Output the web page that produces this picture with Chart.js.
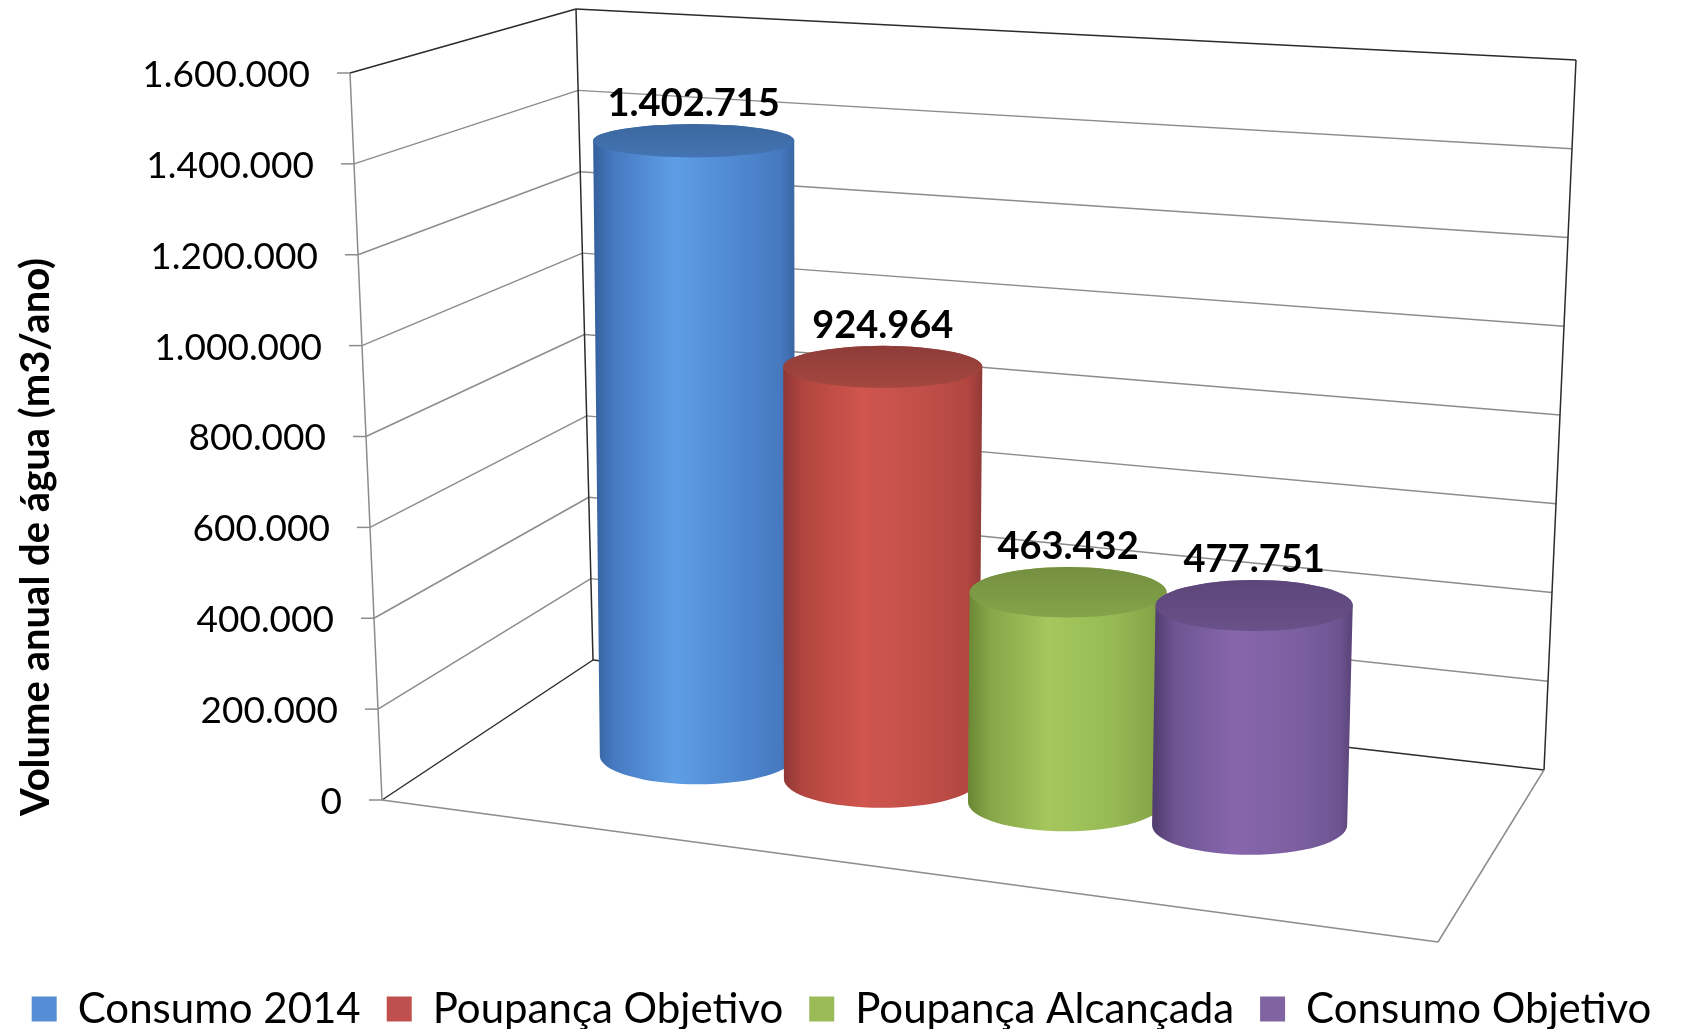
<!DOCTYPE html>
<html>
<head>
<meta charset="utf-8">
<script src="https://cdn.jsdelivr.net/npm/chart.js@4.4.1/dist/chart.umd.min.js"></script>
<style>
  html, body { margin: 0; padding: 0; background: #fff; }
</style>
</head>
<body>
<canvas id="waterChart" width="1683" height="1029"></canvas>
<script>
// Series - one cylinder each
const seriesNames = ['Consumo 2014', 'Poupança Objetivo', 'Poupança Alcançada', 'Consumo Objetivo'];
const seriesValues = [1402715, 924964, 463432, 477751];
const legendColors = ['#558ed5', '#c0504d', '#9bbb59', '#8064a2'];

// Value axis
const yMin = 0;
const yMax = 1600000;
const yStep = 200000;
const yTitle = 'Volume anual de água (m3/ano)';

// Shading of the cylinders: [edge, dark, light, mid, edge]
const bodyShades = [
	['#345f9c', '#4679c0', '#5e9de5', '#4f88cf', '#3a68a5'],
	['#8f3836', '#b2453f', '#d0564f', '#c04e49', '#933a37'],
	['#6c8935', '#86a548', '#a5c75d', '#98ba55', '#738f3a'],
	['#533e71', '#6e5592', '#8866ad', '#7c5fa0', '#584276']
];
const topShades = [
	['#3c679f', '#4474b3'],
	['#8e3c39', '#a4473f'],
	['#748f40', '#84a44a'],
	['#5c4679', '#6a5189']
];

// 3D box corners on the page (px)
const box = {
	ft: [350, 73], fb: [382, 800],
	blt: [576, 9], blb: [593, 660],
	brt: [1576, 60], brb: [1544, 770],
	frb: [1438, 942]
};
// plane half way in depth, where the cylinders stand
const plane = { bl: [476, 728], br: [1471, 853], tl: [464, 40], tr: [1494, 104] };

function lerp(a, b, t) {
	return [a[0] + (b[0] - a[0]) * t, a[1] + (b[1] - a[1]) * t];
}
function onPlane(u, t) {
	return lerp(lerp(plane.bl, plane.br, u), lerp(plane.tl, plane.tr, u), t);
}
function fmt(v) {
	return Math.round(v).toString().replace(/\B(?=(\d{3})+(?!\d))/g, '.');
}
function line(ctx, a, b) {
	ctx.beginPath();
	ctx.moveTo(a[0], a[1]);
	ctx.lineTo(b[0], b[1]);
	ctx.stroke();
}

// Walls, gridlines, ticks, cylinders
const cylinders = {
	id: 'cylinders',
	beforeDatasetsDraw(chart) {
		const ctx = chart.ctx;
		const y = chart.scales.y;
		const frac = px => (y.bottom - px) / (y.bottom - y.top);
		ctx.save();
		ctx.lineWidth = 1.5;

		// gridlines on left and back wall
		y.ticks.forEach(tk => {
			const t = frac(y.getPixelForValue(tk.value));
			const a = lerp(box.fb, box.ft, t);
			const b = lerp(box.blb, box.blt, t);
			const c = lerp(box.brb, box.brt, t);
			const edge = t <= 0.001 || t >= 0.999;
			ctx.strokeStyle = edge ? '#2b2b2b' : '#8c8c8c';
			line(ctx, a, b);
			line(ctx, b, c);
			// tick mark
			ctx.strokeStyle = '#8c8c8c';
			line(ctx, a, [a[0] - 13, a[1]]);
			// tick label
			ctx.fillStyle = '#000';
			ctx.font = '37px Lato';
			ctx.textAlign = 'right';
			ctx.textBaseline = 'middle';
			ctx.fillText(fmt(tk.value), a[0] - 40, a[1] + 2);
		});

		// axis and floor
		ctx.strokeStyle = '#8c8c8c';
		line(ctx, box.fb, box.ft);
		line(ctx, box.fb, box.frb);
		line(ctx, box.frb, box.brb);
		ctx.strokeStyle = '#2b2b2b';
		line(ctx, box.blb, box.blt);
		line(ctx, box.brb, box.brt);

		// axis title
		ctx.save();
		ctx.translate(36, 537);
		ctx.rotate(-Math.PI / 2);
		ctx.font = 'bold 40px Lato';
		ctx.textAlign = 'center';
		ctx.textBaseline = 'middle';
		ctx.fillStyle = '#000';
		ctx.fillText(yTitle, 0, 0);
		ctx.restore();
		ctx.restore();
	},
	// default flat bars are replaced by cylinders
	beforeDatasetDraw() {
		return false;
	},
	afterDatasetsDraw(chart) {
		const ctx = chart.ctx;
		const area = chart.chartArea;
		const y = chart.scales.y;
		const frac = px => (y.bottom - px) / (y.bottom - y.top);
		ctx.save();
		chart.data.datasets.forEach((ds, i) => {
			const el = chart.getDatasetMeta(i).data[0];
			const uc = (el.x - area.left) / area.width;
			const uw = el.width / area.width;
			const tTop = frac(el.y);
			const tBot = frac(el.base);
			const top = onPlane(uc, tTop);
			const bot = onPlane(uc, tBot);
			const rxT = (onPlane(uc + uw / 2, tTop)[0] - onPlane(uc - uw / 2, tTop)[0]) / 2;
			const rxB = (onPlane(uc + uw / 2, tBot)[0] - onPlane(uc - uw / 2, tBot)[0]) / 2;
			const ryT = 14 + 0.019 * top[1];
			const ryB = 14 + 0.019 * bot[1];

			// body
			const sh = bodyShades[i];
			const g = ctx.createLinearGradient(top[0] - rxT, 0, top[0] + rxT, 0);
			g.addColorStop(0, sh[0]);
			g.addColorStop(0.1, sh[1]);
			g.addColorStop(0.4, sh[2]);
			g.addColorStop(0.72, sh[3]);
			g.addColorStop(0.93, sh[1]);
			g.addColorStop(1, sh[4]);
			ctx.fillStyle = g;
			ctx.beginPath();
			ctx.moveTo(top[0] - rxT, top[1]);
			ctx.lineTo(bot[0] - rxB, bot[1]);
			ctx.ellipse(bot[0], bot[1], rxB, ryB, 0, Math.PI, 0, true);
			ctx.lineTo(top[0] + rxT, top[1]);
			ctx.ellipse(top[0], top[1], rxT, ryT, 0, 0, Math.PI, true);
			ctx.closePath();
			ctx.fill();

			// top face
			const tg = ctx.createLinearGradient(0, top[1] - ryT, 0, top[1] + ryT);
			tg.addColorStop(0, topShades[i][0]);
			tg.addColorStop(1, topShades[i][1]);
			ctx.fillStyle = tg;
			ctx.beginPath();
			ctx.ellipse(top[0], top[1], rxT, ryT, 0, 0, Math.PI * 2);
			ctx.fill();

			// value label
			ctx.fillStyle = '#000';
			ctx.font = 'bold 38px Lato';
			ctx.textAlign = 'center';
			ctx.textBaseline = 'alphabetic';
			ctx.fillText(fmt(ds.data[0]), top[0], top[1] - ryT - 8);
		});
		ctx.restore();
	}
};

new Chart(document.getElementById('waterChart'), {
	type: 'bar',
	data: {
		labels: [''],
		datasets: seriesNames.map((name, i) => ({
			label: name,
			data: [seriesValues[i]],
			backgroundColor: legendColors[i],
			borderWidth: 0
		}))
	},
	options: {
		responsive: false,
		animation: false,
		events: [],
		datasets: { bar: { categoryPercentage: 0.74, barPercentage: 1.06 } },
		layout: { padding: { left: 0, right: 0, top: 73, bottom: -11 } },
		scales: {
			x: { display: false },
			y: {
				min: yMin, max: yMax,
				ticks: { stepSize: yStep, display: false },
				grid: { display: false },
				border: { display: false }
			}
		},
		plugins: {
			legend: {
				position: 'bottom',
				labels: {
					boxWidth: 25, boxHeight: 25, padding: 26,
					color: '#000',
					font: { family: 'Lato', size: 42 }
				}
			},
			tooltip: { enabled: false }
		}
	},
	plugins: [cylinders]
});
</script>
</body>
</html>
